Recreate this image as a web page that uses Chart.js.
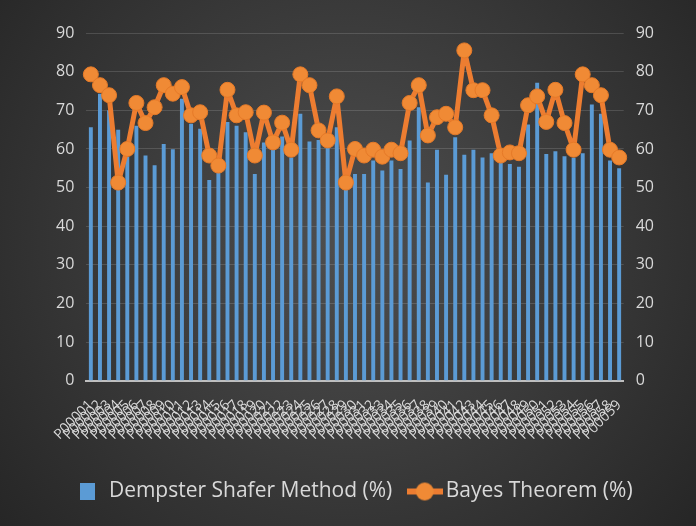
<!DOCTYPE html>
<html>
<head>
<meta charset="utf-8">
<script src="https://cdn.jsdelivr.net/npm/chart.js@4/dist/chart.umd.min.js"></script>
<style>
  html, body { margin: 0; padding: 0; background: #2b2b2b; }
  #wrap { width: 696px; height: 526px; }
</style>
</head>
<body>
<div id="wrap"><canvas id="chart" width="696" height="526"></canvas></div>
<script>
// categories P00001 ... P00059
const categories = [
  'P00001','P00002','P00003','P00004','P00005','P00006','P00007','P00008','P00009','P00010',
  'P00011','P00012','P00013','P00014','P00015','P00016','P00017','P00018','P00019','P00020',
  'P00021','P00022','P00023','P00024','P00025','P00026','P00027','P00028','P00029','P00030',
  'P00031','P00032','P00033','P00034','P00035','P00036','P00037','P00038','P00039','P00040',
  'P00041','P00042','P00043','P00044','P00045','P00046','P00047','P00048','P00049','P00050',
  'P00051','P00052','P00053','P00054','P00055','P00056','P00057','P00058','P00059'
];

const dempsterShafer = [
  65.6, 74.3, 70, 65, 58, 66, 58.3, 55.8, 61.3, 59.9,
  73, 66.5, 65.2, 52, 54, 67, 66, 64.3, 53.5, 61.7,
  60, 63.2, 57.8, 69.1, 61.9, 62.3, 60.4, 65.6, 50, 53.5,
  53.5, 57, 54.4, 57, 54.8, 62.2, 70.8, 51.3, 59.8, 53.3,
  63, 58.5, 59.8, 57.8, 58.9, 57, 56.1, 55.4, 66.3, 77.1,
  58.7, 59.4, 58.1, 57.7, 58.9, 71.5, 69.1, 57, 55
];

const bayes = [
  79.3, 76.5, 73.9, 51.3, 60, 71.9, 66.7, 70.8, 76.5, 74.3,
  76, 68.7, 69.5, 58.3, 55.7, 75.3, 68.7, 69.5, 58.3, 69.4,
  61.7, 66.8, 59.8, 79.3, 76.5, 64.8, 62.2, 73.6, 51.3, 60,
  58.3, 59.8, 58, 59.8, 58.9, 71.9, 76.5, 63.5, 68.2, 69.1,
  65.6, 85.5, 75.2, 75.2, 68.7, 58.3, 59.1, 58.9, 71.3, 73.6,
  67, 75.3, 66.7, 59.8, 79.3, 76.5, 73.9, 59.8, 57.8
];

const yTicks = [0, 10, 20, 30, 40, 50, 60, 70, 80, 90];

const tickColor = '#d9d9d9';
const fontFamily = "'Open Sans', 'Liberation Sans', sans-serif";

// dark radial background like the office "dark" chart style
const backgroundPlugin = {
  id: 'bg',
  beforeDraw(chart) {
    const { ctx, width, height } = chart;
    const g = ctx.createRadialGradient(width / 2, height * 0.45, 20, width / 2, height * 0.45, width * 0.65);
    g.addColorStop(0, '#4d4d4d');
    g.addColorStop(1, '#262626');
    ctx.save();
    ctx.fillStyle = g;
    ctx.fillRect(0, 0, width, height);
    ctx.restore();
  }
};

// legend marker for the line series: a short line with a circle
function lineMarker() {
  const c = document.createElement('canvas');
  c.width = 36; c.height = 20;
  const x = c.getContext('2d');
  x.strokeStyle = '#ed7d31';
  x.lineWidth = 6;
  x.beginPath(); x.moveTo(0, 10); x.lineTo(36, 10); x.stroke();
  x.fillStyle = '#f08a35';
  x.beginPath(); x.arc(18, 10, 9, 0, Math.PI * 2); x.fill();
  return c;
}
function boxMarker() {
  const c = document.createElement('canvas');
  c.width = 15; c.height = 17;
  const x = c.getContext('2d');
  x.fillStyle = '#5b9bd5';
  x.fillRect(0, 0, 15, 17);
  return c;
}

const ctx = document.getElementById('chart').getContext('2d');

new Chart(ctx, {
  data: {
    labels: categories,
    datasets: [
      {
        type: 'line',
        label: 'Bayes Theorem (%)',
        data: bayes,
        borderColor: '#ed7d31',
        borderWidth: 5,
        borderJoinStyle: 'round',
        borderCapStyle: 'round',
        backgroundColor: '#f08a35',
        pointBackgroundColor: '#f08a35',
        pointBorderColor: '#e67a28',
        pointBorderWidth: 1,
        pointRadius: 7.5,
        tension: 0,
        yAxisID: 'y',
        order: 0
      },
      {
        type: 'bar',
        label: 'Dempster Shafer Method (%)',
        data: dempsterShafer,
        backgroundColor: '#5b9bd5',
        borderWidth: 0,
        barPercentage: 0.48,
        categoryPercentage: 0.9,
        yAxisID: 'y',
        order: 1
      }
    ]
  },
  options: {
    responsive: false,
    animation: false,
    layout: { padding: { left: 44, right: 30, top: 33, bottom: 14 } },
    plugins: {
      legend: {
        position: 'bottom',
        reverse: true,
        labels: {
          color: tickColor,
          font: { family: fontFamily, size: 21 },
          usePointStyle: true,
          padding: 22,
          generateLabels(chart) {
            return chart.data.datasets.map((ds, i) => ({
              text: ds.label,
              fontColor: tickColor,
              pointStyle: ds.type === 'line' ? lineMarker() : boxMarker(),
              datasetIndex: i,
              hidden: false,
              lineWidth: 0
            }));
          }
        }
      },
      tooltip: { enabled: false }
    },
    scales: {
      x: {
        grid: { display: false, drawTicks: false },
        border: { color: '#bfbfbf', width: 2 },
        ticks: {
          color: tickColor,
          font: { family: fontFamily, size: 14 },
          autoSkip: false,
          minRotation: 45,
          maxRotation: 45,
          padding: 16
        }
      },
      y: {
        position: 'left',
        min: 0,
        max: 90,
        afterBuildTicks(axis) { axis.ticks = yTicks.map(v => ({ value: v })); },
        grid: { color: 'rgba(255,255,255,0.14)', drawTicks: false },
        border: { display: false },
        ticks: {
          color: tickColor,
          font: { family: fontFamily, size: 16 },
          padding: 12
        }
      },
      y2: {
        position: 'right',
        min: 0,
        max: 90,
        afterBuildTicks(axis) { axis.ticks = yTicks.map(v => ({ value: v })); },
        grid: { display: false, drawTicks: false },
        border: { display: false },
        ticks: {
          color: tickColor,
          font: { family: fontFamily, size: 16 },
          padding: 12
        }
      }
    }
  },
  plugins: [backgroundPlugin]
});
</script>
</body>
</html>
